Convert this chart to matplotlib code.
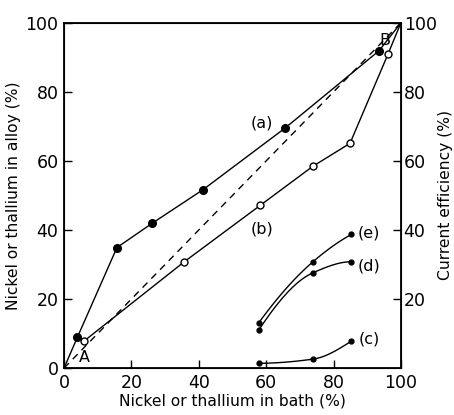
import numpy as np
import matplotlib
matplotlib.use("Agg")
import matplotlib.pyplot as plt

# Alloy composition vs bath composition
bath_a = [0, 4, 15.7, 26.1, 41.3, 65.6, 93.5, 100]
alloy_a = [0, 9, 34.9, 41.9, 51.7, 69.5, 91.9, 100]

bath_b = [5.9, 35.7, 58.2, 73.8, 84.9, 96.2, 100]
alloy_b = [7.8, 30.8, 47.1, 58.4, 65.1, 91.0, 100]

# Current efficiency curves
bath_ce = [57.8, 73.9, 85.3]
eff_c = [1.4, 2.6, 7.8]
eff_d = [11.0, 27.6, 30.8]
eff_e = [13.1, 30.8, 38.7]

ticks = [0, 20, 40, 60, 80, 100]

fs_tick = 12.5
fs_lab = 11.2

fig = plt.figure(figsize=(4.54, 4.15), dpi=100)
ax = fig.add_axes([0.141, 0.113, 0.742, 0.832])
ax.set_xlim(0, 100)
ax.set_ylim(0, 100)

# ideal diagonal
ax.plot([0, 100], [0, 100], ls=(0, (5, 4)), color="black", lw=1.0)

ax.plot(bath_a, alloy_a, "-", color="black", lw=1.0)
ax.plot(bath_a[1:-1], alloy_a[1:-1], "o", ms=5.5, mfc="black", mec="black")

ax.plot(bath_b, alloy_b, "-", color="black", lw=1.0)
ax.plot(bath_b[:-1], alloy_b[:-1], "o", ms=5, mfc="white", mec="black", mew=1.0)


def smooth(x, y, n=40):
    """Monotone cubic Hermite curve through the given points."""
    x = np.asarray(x, float)
    y = np.asarray(y, float)
    h = np.diff(x)
    d = np.diff(y) / h
    m = np.zeros_like(y)
    m[0], m[-1] = d[0], d[-1]
    for i in range(1, len(x) - 1):
        if d[i - 1] * d[i] > 0:
            w1 = 2 * h[i] + h[i - 1]
            w2 = h[i] + 2 * h[i - 1]
            m[i] = (w1 + w2) / (w1 / d[i - 1] + w2 / d[i])
    # end slopes: one-sided three-point estimate, kept monotone
    m[0] = max(0.0, ((2 * h[0] + h[1]) * d[0] - h[0] * d[1]) / (h[0] + h[1]))
    m[-1] = max(0.0, ((2 * h[-1] + h[-2]) * d[-1] - h[-1] * d[-2]) / (h[-1] + h[-2]))
    xs, ys = [], []
    for i in range(len(x) - 1):
        t = np.linspace(0, 1, n)
        h00 = 2 * t**3 - 3 * t**2 + 1
        h10 = t**3 - 2 * t**2 + t
        h01 = -2 * t**3 + 3 * t**2
        h11 = t**3 - t**2
        xs.append(x[i] + t * h[i])
        ys.append(h00 * y[i] + h10 * h[i] * m[i] + h01 * y[i + 1] + h11 * h[i] * m[i + 1])
    return np.concatenate(xs), np.concatenate(ys)


for eff in (eff_c, eff_d, eff_e):
    xs, ys = smooth(bath_ce, eff)
    ax.plot(xs, ys, "-", color="black", lw=1.0)
    ax.plot(bath_ce, eff, "o", ms=3.5, color="black")

for s, (x, y) in {"(a)": (58.6, 71), "(b)": (58.8, 40.4), "(e)": (90.5, 39),
                  "(d)": (90.5, 29.6), "(c)": (90.5, 8.4), "A": (6, 3.2),
                  "B": (95.3, 95.0)}.items():
    ax.text(x, y, s, ha="center", va="center", fontsize=11.5)

ax.set_xticks(ticks)
ax.set_yticks(ticks)
ax.tick_params(direction="in", length=6, width=1.0, labelsize=fs_tick,
               top=False, pad=4)
for sp in ax.spines.values():
    sp.set_linewidth(1.3)

ax.set_xlabel("Nickel or thallium in bath (%)", fontsize=fs_lab, labelpad=1)
ax.set_ylabel("Nickel or thallium in alloy (%)", fontsize=fs_lab, labelpad=3)

ax2 = ax.twinx()
ax2.set_ylim(0, 100)
ax2.set_yticks([20, 40, 60, 80, 100])
ax2.tick_params(direction="in", length=6, width=1.0, labelsize=fs_tick, pad=2)
ax2.set_ylabel("Current efficiency (%)", fontsize=fs_lab, labelpad=1)

fig.savefig("out.png", dpi=100)
